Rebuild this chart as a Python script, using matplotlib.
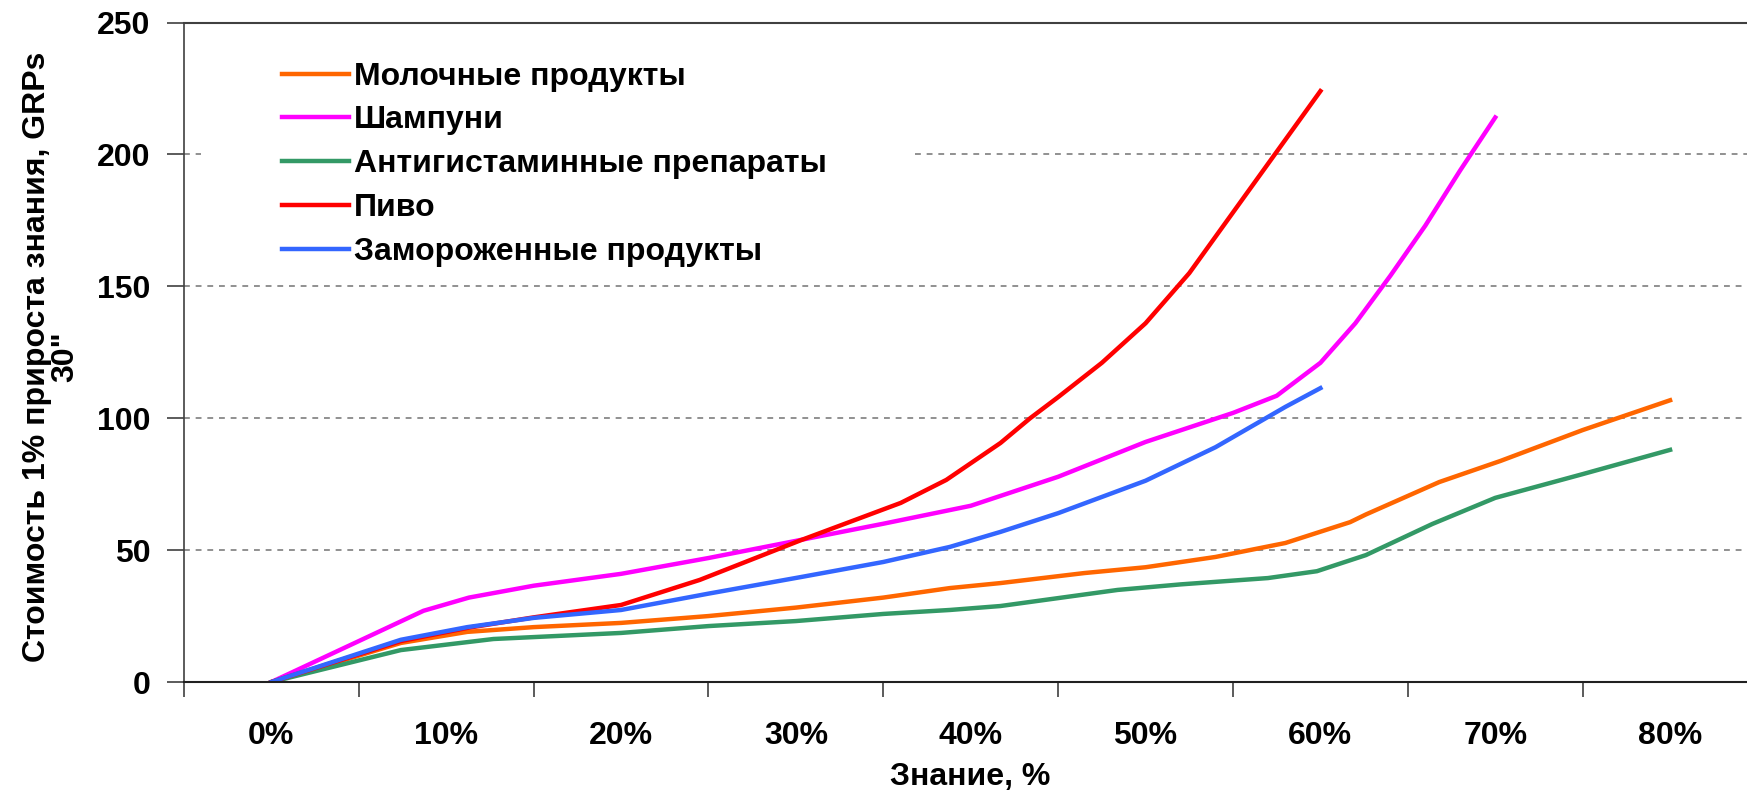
import matplotlib
matplotlib.use("Agg")
import matplotlib.pyplot as plt

plt.rcParams['font.family'] = ['Liberation Sans', 'DejaVu Sans']
plt.rcParams['font.weight'] = 'bold'

# Знание, % (x) и стоимость 1% прироста знания (y) для каждой категории
dairy_x = [0, 7.4, 11.2, 15, 20, 25, 30, 35, 38.8, 41.7, 46.5, 50, 54, 58, 61.7, 62.6, 66.8, 70.3, 75, 80]
dairy_y = [0, 14.8, 19, 20.8, 22.4, 25, 28.2, 32, 35.6, 37.5, 41.3, 43.5, 47.4, 52.7, 60.6, 63.5, 75.8, 83.8, 95.5, 106.8]

shampoo_x = [0, 8.7, 11.3, 15, 20, 25, 30, 35, 40, 45, 50, 55, 57.5, 60, 62, 64, 66, 68, 70]
shampoo_y = [0, 27, 32, 36.5, 41, 47, 53.5, 60, 66.8, 77.8, 91, 102, 108.5, 121, 136, 154, 173, 194, 214]

antihist_x = [0, 7.4, 12.7, 20, 25, 30, 35, 38.8, 41.7, 48.4, 52, 57, 59.8, 62.6, 66.4, 70, 75, 80]
antihist_y = [0, 12.1, 16.3, 18.6, 21.2, 23.1, 25.8, 27.3, 28.8, 34.9, 37, 39.4, 42, 48.1, 59.9, 69.8, 78.8, 88]

beer_x = [0, 7.4, 11.2, 15, 20, 24.5, 30.3, 36, 38.6, 41.7, 43.4, 45, 47.5, 50, 52.5, 55, 57.5, 60]
beer_y = [0, 15.5, 20.5, 24.5, 29.2, 38.7, 53.8, 67.9, 76.6, 90.6, 100, 108, 121, 136, 155, 178, 201, 224]

frozen_x = [0, 7.4, 11.2, 15, 20, 25, 30.3, 35, 38.8, 41.7, 45, 50, 54, 58, 60]
frozen_y = [0, 16, 20.8, 24.3, 27.3, 33.5, 39.8, 45.5, 51.2, 56.9, 64, 76.3, 89, 104.3, 111.4]

tick_labels = ['0%', '10%', '20%', '30%', '40%', '50%', '60%', '70%', '80%']
tick_pos = [0, 10, 20, 30, 40, 50, 60, 70, 80]

fig = plt.figure(figsize=(17.47, 7.96), dpi=100)
ax = fig.add_axes([184 / 1747, 114 / 796, 1563 / 1747, 659.5 / 796])

ax.plot(dairy_x, dairy_y, color='#FF6600', lw=3.2, label='Молочные продукты', solid_joinstyle='round')
ax.plot(shampoo_x, shampoo_y, color='#FF00FF', lw=3.2, label='Шампуни', solid_joinstyle='round')
ax.plot(antihist_x, antihist_y, color='#339966', lw=3.2, label='Антигистаминные препараты', solid_joinstyle='round')
ax.plot(beer_x, beer_y, color='#FF0000', lw=3.2, label='Пиво', solid_joinstyle='round')
ax.plot(frozen_x, frozen_y, color='#3366FF', lw=3.2, label='Замороженные продукты', solid_joinstyle='round')

ax.set_xlim(-5, 84.4)
ax.set_ylim(0, 250)

# категориальная ось: штрихи между подписями
ax.set_xticks([-5, 5, 15, 25, 35, 45, 55, 65, 75])
ax.set_xticklabels([])
ax.set_xticks(tick_pos, minor=True)
ax.set_xticklabels(tick_labels, minor=True)
ax.tick_params(axis='x', which='major', length=11, width=1.2, color='#404040', direction='out')
ax.tick_params(axis='x', which='minor', length=0, pad=28, labelsize=23)

ax.set_yticks([0, 50, 100, 150, 200, 250])
ax.tick_params(axis='y', length=12, width=1.2, color='#404040', direction='out', pad=12, labelsize=23)

grid_style = dict(color='#909090', lw=1.4, ls=(0, (3, 3)), zorder=0)
for v in [50, 100, 150]:
    ax.axhline(v, **grid_style)
# линия 200 перекрыта легендой
ax.hlines(200, -5, -4, **grid_style)
ax.hlines(200, 36.8, 84.4, **grid_style)

ax.spines['right'].set_visible(False)
ax.spines['top'].set_color('#404040')
ax.spines['top'].set_linewidth(1.5)
ax.spines['left'].set_color('#404040')
ax.spines['left'].set_linewidth(1.2)
ax.spines['bottom'].set_color('#202020')
ax.spines['bottom'].set_linewidth(1.5)

fig.text(0.0295, 0.5515, 'Стоимость 1% прироста знания, GRPs\n30"', rotation=90,
         ha='center', va='center', multialignment='center', fontsize=23, fontweight='bold',
         linespacing=0.92)
fig.text(970 / 1747, 1 - 777 / 796, 'Знание, %', ha='center', va='center', fontsize=23, fontweight='bold')

leg = ax.legend(loc='upper left', bbox_to_anchor=(253.5 / 1747, 1 - 33 / 796), bbox_transform=fig.transFigure,
                fontsize=23, handlelength=2.08, handletextpad=0.17, labelspacing=0.43,
                frameon=False, borderpad=0.4)

fig.savefig('out.png', dpi=100)
